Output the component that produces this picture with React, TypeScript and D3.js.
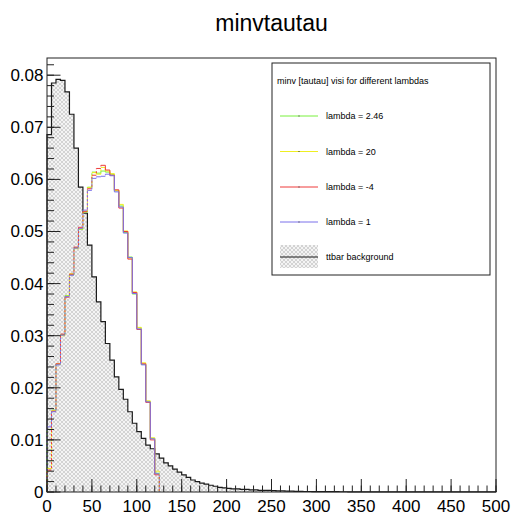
import React from "react";
import * as d3 from "d3";

// ---------- data ----------
const binWidth = 5;
const xDomain = [0, 500];
const yMax = 0.0833;

// ttbar background, 100 bins of width 5
const background = [
  0.0686, 0.0785, 0.0792, 0.079, 0.0768, 0.0725, 0.066, 0.0585, 0.0535, 0.0474,
  0.0413, 0.0365, 0.0327, 0.0285, 0.0253, 0.0221, 0.0197, 0.0178, 0.0154, 0.0132,
  0.0116, 0.0103, 0.009, 0.0083, 0.0073, 0.0065, 0.0056, 0.005, 0.0044, 0.0038,
  0.0033, 0.0028, 0.0023, 0.002, 0.0017, 0.0015, 0.0013, 0.0011, 0.0009, 0.0008,
  0.0007, 0.0006, 0.0006, 0.0005, 0.0005, 0.0004, 0.0004, 0.0003, 0.0003, 0.0003,
  0.00025, 0.0002, 0.0002, 0.00018, 0.00015, 0.00013, 0.00012, 0.0001, 0.0001, 0.00009,
  0.00008, 0.00007, 0.00007, 0.00006, 0.00006, 0.00005, 0.00005, 0.00004, 0.00004, 0.00004,
  0.00003, 0.00003, 0.00003, 0.00003, 0.00002, 0.00002, 0.00002, 0.00002, 0.00002, 0.00002,
  0.00001, 0.00001, 0.00001, 0.00001, 0.00001, 0.00001, 0.00001, 0.00001, 0.00001, 0.00001,
  0.00001, 0.00001, 0.00001, 0.00001, 0.00001, 0.00001, 0.00001, 0.00001, 0.00001, 0.00001,
];

const lambda246 = [
  0.012, 0.0157, 0.0245, 0.0302, 0.0377, 0.0417, 0.0469, 0.0504, 0.0537, 0.0585,
  0.0614, 0.0612, 0.0616, 0.0614, 0.061, 0.0578, 0.0549, 0.0498, 0.0451, 0.038,
  0.0315, 0.0245, 0.0174, 0.0103, 0.0036,
];
const lambda20 = [
  0.0045, 0.0156, 0.0246, 0.03, 0.0376, 0.0419, 0.0467, 0.0505, 0.0539, 0.0584,
  0.0613, 0.061, 0.0623, 0.0616, 0.0611, 0.0579, 0.0552, 0.0501, 0.0449, 0.0384,
  0.0316, 0.0248, 0.0175, 0.0104, 0.004,
];
const lambdaM4 = [
  0.0042, 0.0155, 0.0246, 0.0303, 0.0374, 0.0418, 0.047, 0.0508, 0.0538, 0.0582,
  0.0608, 0.0621, 0.0627, 0.0618, 0.0608, 0.058, 0.0545, 0.05, 0.0447, 0.0383,
  0.0312, 0.0246, 0.0172, 0.01, 0.0033,
];
const lambda1 = [
  0.0125, 0.0154, 0.0244, 0.0301, 0.0375, 0.0416, 0.0468, 0.0506, 0.0541, 0.0579,
  0.0602, 0.0605, 0.0606, 0.061, 0.0607, 0.0576, 0.0547, 0.0497, 0.045, 0.0381,
  0.0313, 0.0244, 0.0173, 0.0102, 0.0035,
];

const seriesNames = ["lambda = 2.46", "lambda = 20", "lambda = -4", "lambda = 1"];
const seriesColors = ["#78f03c", "#eeee22", "#ee3a3a", "#7a70ea"];
const seriesValues = [lambda246, lambda20, lambdaM4, lambda1];

const title = "minvtautau";
const legendHeader = "minv [tautau] visi for different lambdas";
const backgroundName = "ttbar background";
const xTicks = d3.range(0, 501, 50);
const xMinor = d3.range(0, 501, 10);
const yTicks = [0, 0.01, 0.02, 0.03, 0.04, 0.05, 0.06, 0.07, 0.08];
const yMinor = d3.range(0, 42).map((i) => i * 0.002).filter((v) => v <= yMax);

// ---------- layout ----------
const W = 513;
const H = 516;
const frame = { left: 47, right: 496, top: 58, bottom: 492 };
const FONT = "'Liberation Sans', Arial, Helvetica, sans-serif";

const x = d3.scaleLinear().domain(xDomain).range([frame.left, frame.right]);
const y = d3.scaleLinear().domain([0, yMax]).range([frame.bottom, frame.top]);

type P = { e: number; v: number };
function histPoints(vals: number[]): P[] {
  const pts: P[] = [{ e: 0, v: 0 }];
  vals.forEach((v, i) => pts.push({ e: i * binWidth, v }));
  pts.push({ e: vals.length * binWidth, v: vals[vals.length - 1] });
  pts.push({ e: vals.length * binWidth, v: 0 });
  return pts;
}

// horizontal tops of a histogram
function horizPath(vals: number[]): string {
  const p = d3.path();
  vals.forEach((v, i) => {
    p.moveTo(x(i * binWidth), y(v));
    p.lineTo(x((i + 1) * binWidth), y(v));
  });
  return p.toString();
}
// vertical connectors; rising (or the closing drop) vs falling
function vertPath(vals: number[], rising: boolean): string {
  const p = d3.path();
  const ext = [0, ...vals, 0];
  for (let i = 0; i <= vals.length; i++) {
    const a = ext[i];
    const b = ext[i + 1];
    const isDashed = b > a || i === vals.length;
    if (isDashed === rising) {
      p.moveTo(x(i * binWidth), y(a));
      p.lineTo(x(i * binWidth), y(b));
    }
  }
  return p.toString();
}

const lineGen = d3
  .line<P>()
  .x((d) => x(d.e))
  .y((d) => y(d.v))
  .curve(d3.curveStepAfter);

const areaGen = d3
  .area<P>()
  .x((d) => x(d.e))
  .y0(y(0))
  .y1((d) => y(d.v))
  .curve(d3.curveStepAfter);

export default function App() {
  const bgPts = histPoints(background);
  const legend = { x0: 272, y0: 63, x1: 490, y1: 275 };
  const entryY = [116, 151.5, 187, 222, 257];
  const lineX0 = 280;
  const lineX1 = 318;
  const labelX = 326;

  return (
    <svg
      width={W}
      height={H}
      style={{ position: "absolute", left: 0, top: 0, background: "#fff" }}
      fontFamily={FONT}
    >
      <defs>
        <pattern id="hatch" width="4" height="4" patternUnits="userSpaceOnUse">
          <rect width="4" height="4" fill="#f4f4f4" />
          <path d="M0,0 L4,4 M4,0 L0,4" stroke="#c4c4c4" strokeWidth="0.7" />
        </pattern>
      </defs>
      <rect width={W} height={H} fill="#fff" />

      {/* title */}
      <text x={(frame.left + frame.right) / 2} y={31} fontSize={23} textAnchor="middle" fill="#000">
        {title}
      </text>

      {/* background histogram */}
      <path d={areaGen(bgPts) || ""} fill="url(#hatch)" stroke="none" />
      <path d={lineGen(bgPts) || ""} fill="none" stroke="#1a1a1a" strokeWidth={1.2} />

      {/* signal histograms */}
      {seriesValues.map((vals, i) => (
        <g key={seriesNames[i]} fill="none" stroke={seriesColors[i]} strokeWidth={1}>
          <path d={horizPath(vals)} />
          <path d={vertPath(vals, false)} />
          <path d={vertPath(vals, true)} strokeDasharray="2 2" strokeDashoffset={i} />
        </g>
      ))}

      {/* frame */}
      <rect
        x={frame.left}
        y={frame.top}
        width={frame.right - frame.left}
        height={frame.bottom - frame.top}
        fill="none"
        stroke="#222"
        strokeWidth={1}
      />

      {/* y axis ticks */}
      {yMinor.map((v) => (
        <line key={"ym" + v} x1={frame.left} x2={frame.left + 7} y1={y(v)} y2={y(v)} stroke="#222" strokeWidth={1} />
      ))}
      {yTicks.map((v) => (
        <line key={"yt" + v} x1={frame.left} x2={frame.left + 13.5} y1={y(v)} y2={y(v)} stroke="#222" strokeWidth={1} />
      ))}
      {yTicks.map((v) => (
        <text key={"yl" + v} x={43.5} y={y(v) + 6} fontSize={17} textAnchor="end" fill="#000">
          {v === 0 ? "0" : v.toFixed(2)}
        </text>
      ))}

      {/* x axis ticks */}
      {xMinor.map((v) => (
        <line key={"xm" + v} x1={x(v)} x2={x(v)} y1={frame.bottom} y2={frame.bottom - 6.5} stroke="#222" strokeWidth={1} />
      ))}
      {xTicks.map((v) => (
        <line key={"xt" + v} x1={x(v)} x2={x(v)} y1={frame.bottom} y2={frame.bottom - 13} stroke="#222" strokeWidth={1} />
      ))}
      {xTicks.map((v) => (
        <text key={"xl" + v} x={x(v)} y={512} fontSize={17} textAnchor="middle" fill="#000">
          {String(v)}
        </text>
      ))}

      {/* legend */}
      <rect
        x={legend.x0}
        y={legend.y0}
        width={legend.x1 - legend.x0}
        height={legend.y1 - legend.y0}
        fill="#fff"
        stroke="#222"
        strokeWidth={1}
      />
      <text x={277} y={84} fontSize={9} fill="#000">
        {legendHeader}
      </text>
      {seriesNames.map((name, i) => (
        <g key={"lg" + name}>
          <line x1={lineX0} x2={lineX1} y1={entryY[i]} y2={entryY[i]} stroke={seriesColors[i]} strokeWidth={1} />
          <rect x={(lineX0 + lineX1) / 2 - 0.5} y={entryY[i] - 0.5} width={1} height={1} fill="#333" />
          <text x={labelX} y={entryY[i] + 3.3} fontSize={9} fill="#000">
            {name}
          </text>
        </g>
      ))}
      <rect x={lineX0} y={245} width={lineX1 - lineX0} height={23} fill="url(#hatch)" />
      <line x1={lineX0} x2={lineX1} y1={entryY[4]} y2={entryY[4]} stroke="#1a1a1a" strokeWidth={1.2} />
      <text x={labelX} y={entryY[4] + 3.3} fontSize={9} fill="#000">
        {backgroundName}
      </text>
    </svg>
  );
}
